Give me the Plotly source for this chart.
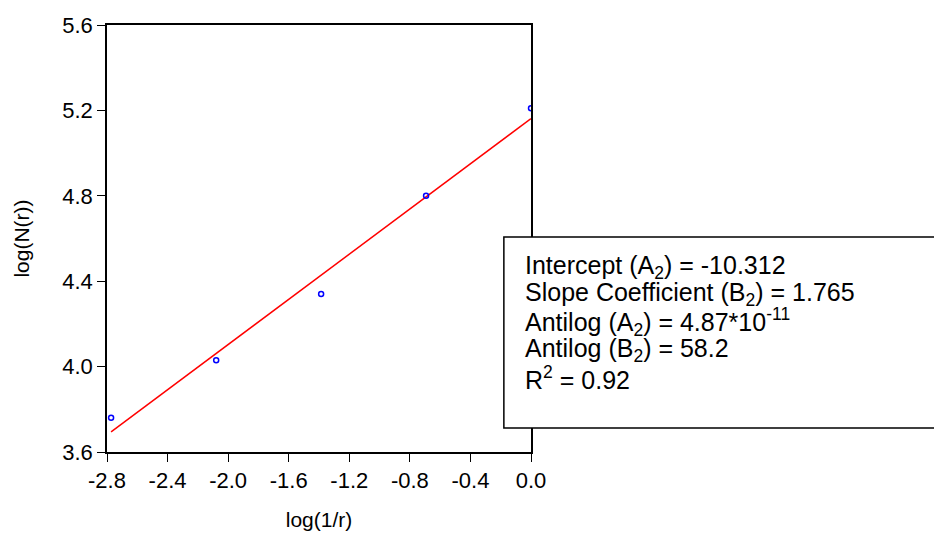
import numpy as np
import plotly.graph_objects as go

# Data
log_inv_r = [-2.773, -2.079, -1.386, -0.693, 0.0]
log_N_r = [3.76, 4.03, 4.34, 4.80, 5.21]

x_ticks = [-2.8, -2.4, -2.0, -1.6, -1.2, -0.8, -0.4, 0.0]
y_ticks = [3.6, 4.0, 4.4, 4.8, 5.2, 5.6]

stats_lines = [
    "Intercept (A<sub>2</sub>) = -10.312",
    "Slope Coefficient (B<sub>2</sub>) = 1.765",
    "Antilog (A<sub>2</sub>) = 4.87*10<sup>-11</sup>",
    "Antilog (B<sub>2</sub>) = 58.2",
    "R<sup>2</sup> = 0.92",
]

# Least-squares fit of the data
slope, intercept = np.polyfit(log_inv_r, log_N_r, 1)
fit_x = [min(log_inv_r), max(log_inv_r)]
fit_y = [slope * v + intercept for v in fit_x]

FONT = "Liberation Sans, Arial, sans-serif"

fig = go.Figure()
fig.add_trace(go.Scatter(
    x=fit_x, y=fit_y, mode="lines",
    line=dict(color="#ff0000", width=1.5), showlegend=False, hoverinfo="skip",
))
fig.add_trace(go.Scatter(
    x=log_inv_r, y=log_N_r, mode="markers",
    marker=dict(symbol="circle-open", size=5, color="#0000ff", line=dict(width=1.5, color="#0000ff")),
    showlegend=False, cliponaxis=True,
))

axis_common = dict(
    showline=True, mirror=True, linecolor="black", linewidth=1.5,
    ticks="outside", ticklen=8, tickwidth=1.2, tickcolor="black",
    showgrid=False, zeroline=False,
    tickfont=dict(family=FONT, size=22, color="black"),
)

fig.update_xaxes(
    range=[-2.8, 0.0], tickvals=x_ticks, ticktext=[f"{v:.1f}" for v in x_ticks],
    title=dict(text="log(1/r)", font=dict(family=FONT, size=21, color="black"), standoff=20),
    **axis_common,
)
fig.update_yaxes(
    range=[3.6, 5.6], tickvals=y_ticks, ticktext=[f"{v:.1f}" for v in y_ticks],
    title=dict(text="log(N(r))", font=dict(family=FONT, size=21, color="black"), standoff=27),
    **axis_common,
)

# Statistics box
fig.add_shape(
    type="rect", xref="paper", yref="paper",
    x0=0.936, x1=2.2, y0=0.0562, y1=0.5035,
    line=dict(color="black", width=1.5), fillcolor="white", layer="above",
)

line_y = [0.433, 0.370, 0.304, 0.238, 0.173]
for txt, yy in zip(stats_lines, line_y):
    fig.add_annotation(
        text=txt, xref="paper", yref="paper", x=0.981, y=yy,
        xanchor="left", yanchor="middle", showarrow=False,
        font=dict(family=FONT, size=25, color="black"),
    )

fig.update_layout(
    width=934, height=535,
    margin=dict(l=107, r=403, t=25, b=83, autoexpand=False),
    paper_bgcolor="white", plot_bgcolor="white",
    font=dict(family=FONT, color="black"),
)

fig.write_html(
    "out.html",
    config={"displayModeBar": False},
    post_script="document.body.style.margin='0';document.body.style.padding='0';",
)
